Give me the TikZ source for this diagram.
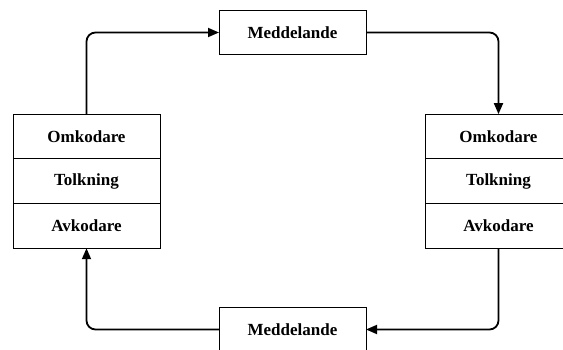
\documentclass[tikz,border=0pt]{standalone}
\usepackage{fontspec}
\setmainfont{Liberation Serif}
\usetikzlibrary{positioning,arrows.meta}
\tikzset{
  lager/.style={draw, line width=0.8pt, minimum width=147pt, minimum height=44.7pt,
    inner sep=0pt, outer sep=0pt, font=\fontsize{17}{20}\selectfont\bfseries},
  flode/.style={line width=1.8pt, rounded corners=9pt, -{Triangle[length=11pt,width=9pt]}}
}
\begin{document}
\begin{tikzpicture}[x=1pt,y=-1pt]
  \useasboundingbox (0,0) rectangle (563,350);
  % meddelanden
  \node[lager] (medTop) at (292.5,32.5)  {Meddelande};
  \node[lager] (medBot) at (292.5,329.5) {Meddelande};
  % vänster part
  \node[lager] (omkL) at (86.5,136.5) {Omkodare};
  \node[lager, below=0pt of omkL]  (tolkL) {Tolkning};
  \node[lager, below=0pt of tolkL] (avkL)  {Avkodare};
  % höger part
  \node[lager] (omkR) at (498.5,136.5) {Omkodare};
  \node[lager, below=0pt of omkR]  (tolkR) {Tolkning};
  \node[lager, below=0pt of tolkR] (avkR)  {Avkodare};

  \draw[flode] (omkL.north) |- (medTop.west);
  \draw[flode] (medTop.east) -| (omkR.north);
  \draw[flode] (avkR.south) |- (medBot.east);
  \draw[flode] (medBot.west) -| (avkL.south);
\end{tikzpicture}
\end{document}
